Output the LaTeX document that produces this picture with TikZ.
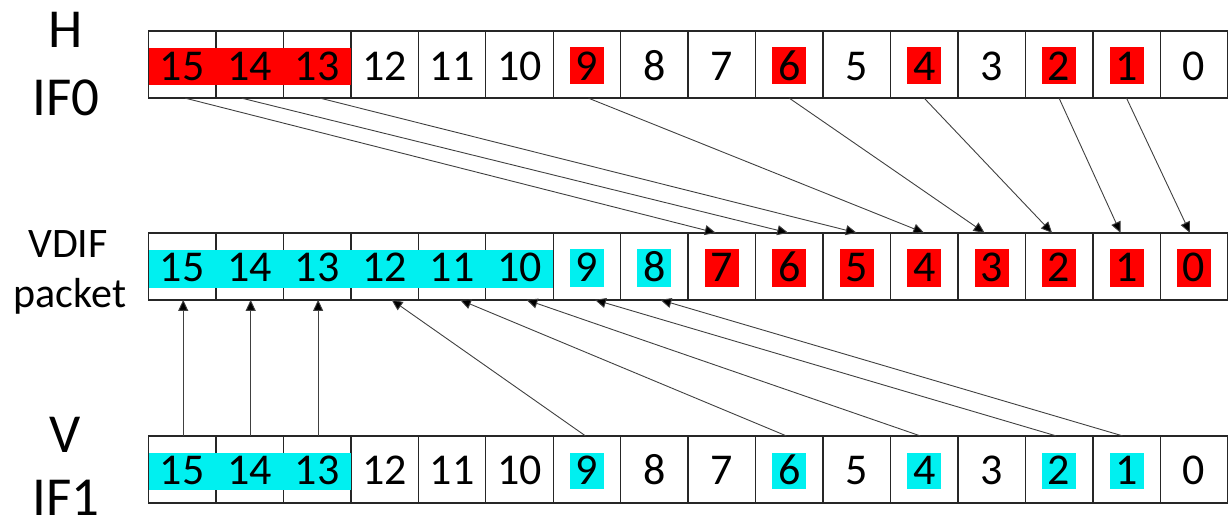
\documentclass[tikz,border=0pt]{standalone}
\usepackage{fontspec}
\setmainfont{Carlito}
\usetikzlibrary{arrows.meta}
\definecolor{hred}{RGB}{255,0,0}
\definecolor{hcyan}{RGB}{0,240,240}
\begin{document}
\begin{tikzpicture}[x=1pt,y=-1pt,
  cell/.style={draw=black!85,line width=1.4pt,minimum width=67.45pt,minimum height=67pt,inner sep=0pt,outer sep=0pt},
  num/.style={font=\fontsize{44}{52}\selectfont,inner sep=0pt,anchor=base},
  biglab/.style={font=\fontsize{55}{66}\selectfont,inner sep=0pt,anchor=base,text depth=0pt},
  midlab/.style={font=\fontsize{42}{50}\selectfont,inner sep=0pt,anchor=base},
  conn/.style={draw=black!75,line width=0.9pt,-{Triangle[length=11pt,width=10pt,fill=black]}}
]
\useasboundingbox (0,0) rectangle (1228,525);
% cells
\foreach \k in {0,...,15}{
  \pgfmathtruncatemacro\lab{15-\k}
  \node[cell] (t\lab) at ({148.5+67.45*(\k+0.5)},64.65) {};
  \node[cell] (m\lab) at ({148.5+67.45*(\k+0.5)},266.35) {};
  \node[cell] (b\lab) at ({148.5+67.45*(\k+0.5)},469.35) {};
}
% highlight bands
\fill[hred] ([yshift=-17pt]t15.north west) rectangle ([yshift=-54pt]t13.north east);
\fill[hcyan] ([yshift=-17pt]m15.north west) rectangle ([yshift=-55pt]m10.north east);
\fill[hcyan] ([yshift=-17pt]b15.north west) rectangle ([yshift=-54pt]b13.north east);
% single highlight boxes
\foreach \c in {9,6,4,2,1}{
  \fill[hred] ([xshift=-17pt,yshift=-16pt]t\c.north) rectangle ([xshift=17pt,yshift=-53pt]t\c.north);
  \fill[hcyan] ([xshift=-17pt,yshift=-17pt]b\c.north) rectangle ([xshift=17pt,yshift=-53pt]b\c.north);
}
\foreach \c in {9,8}{
  \fill[hcyan] ([xshift=-17pt,yshift=-16pt]m\c.north) rectangle ([xshift=17pt,yshift=-54pt]m\c.north);
}
\foreach \c in {7,...,0}{
  \fill[hred] ([xshift=-17pt,yshift=-16pt]m\c.north) rectangle ([xshift=17pt,yshift=-54pt]m\c.north);
}
% numbers
\foreach \c in {0,...,15}{
  \node[num] (tn\c) at ([yshift=-49pt]t\c.north) {\c};
  \node[num] (mn\c) at ([yshift=-49pt]m\c.north) {\c};
  \node[num] (bn\c) at ([yshift=-49pt]b\c.north) {\c};
}
% row labels
\node[biglab] (lH) at (66,47) {H};
\node[biglab] (lIF0) at (66,115) {IF0};
\node[midlab] (lVDIF) at (68,257) {VDIF};
\node[midlab] (lpacket) at (70,307) {packet};
\node[biglab] (lV) at (65,452) {V};
\node[biglab] (lIF1) at (66,515) {IF1};
% H/IF0 -> VDIF
\draw[conn] ([xshift=3pt]t15.south) -- ([xshift=-6pt]m7.north);
\draw[conn] ([xshift=-8pt]t14.south) -- ([xshift=-1pt]m6.north);
\draw[conn] ([xshift=3pt]t13.south) -- (m5.north);
\draw[conn] ([xshift=1.5pt]t9.south) -- (m4.north);
\draw[conn] (t6.south) -- ([xshift=-7pt]m3.north);
\draw[conn] (t4.south) -- ([xshift=-7pt]m2.north);
\draw[conn] (t2.south) -- ([xshift=-6pt]m1.north);
\draw[conn] (t1.south) -- ([xshift=-4pt]m0.north);
% V/IF1 -> VDIF
\draw[conn] ([xshift=1pt]b15.north) -- ([xshift=1pt]m15.south);
\draw[conn] ([xshift=1pt]b14.north) -- ([xshift=1pt]m14.south);
\draw[conn] ([xshift=1pt]b13.north) -- ([xshift=1pt]m13.south);
\draw[conn] ([xshift=-1.5pt]b9.north) -- ([xshift=7pt]m12.south);
\draw[conn] ([xshift=-3pt]b6.north) -- ([xshift=8pt]m11.south);
\draw[conn] ([xshift=-4pt]b4.north) -- ([xshift=7pt]m10.south);
\draw[conn] ([xshift=-3pt]b2.north) -- ([xshift=8pt]m9.south);
\draw[conn] ([xshift=-4pt]b1.north) -- ([xshift=6pt]m8.south);
\end{tikzpicture}
\end{document}
